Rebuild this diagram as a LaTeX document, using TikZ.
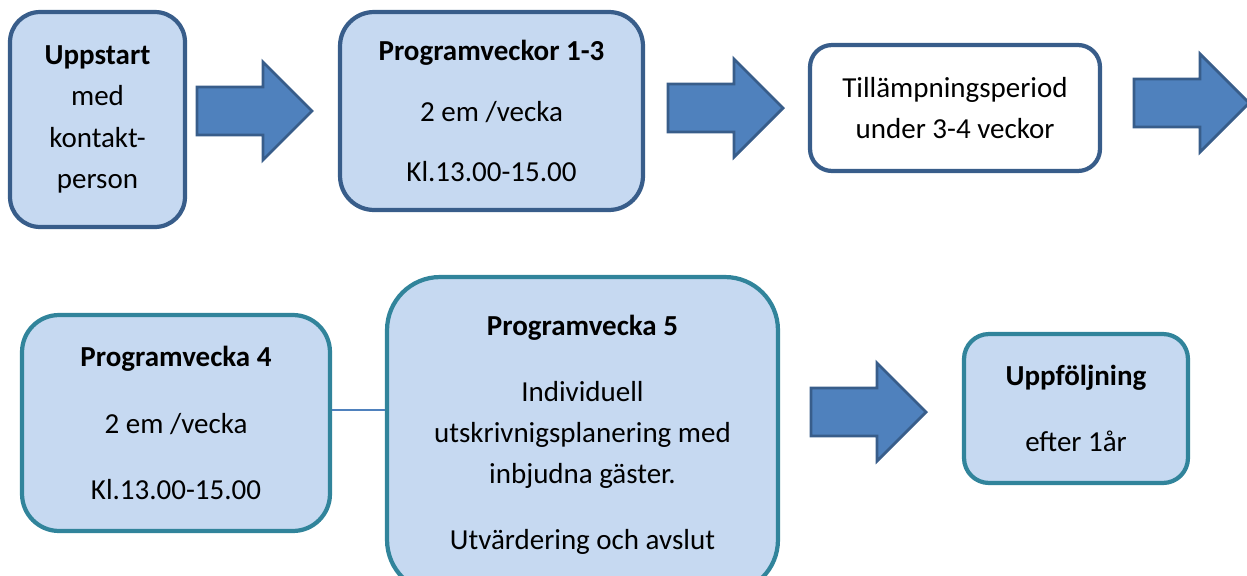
\documentclass[tikz,border=0pt]{standalone}
\usepackage{fontspec}
\setmainfont{Carlito}
\usepackage{xcolor}
\usetikzlibrary{positioning}

\definecolor{boxfill}{HTML}{C6D9F1}
\definecolor{boxblue}{HTML}{385D8A}
\definecolor{boxteal}{HTML}{31849B}
\definecolor{arrowblue}{HTML}{4F81BD}

\tikzset{
  phase/.style={draw=boxblue, fill=boxfill, line width=2.4pt, align=center,
    inner sep=0pt, font=\fontsize{16.5}{23.5}\selectfont},
  phaseteal/.style={phase, draw=boxteal},
  phasewhite/.style={phase, fill=white},
  link/.style={draw=arrowblue, line width=0.9pt},
  blockarrow/.pic={
    \draw[draw=boxblue, fill=arrowblue, line width=1.6pt]
      (0,-24) -- (66,-24) -- (66,-49) -- (115,0) -- (66,49) -- (66,24) -- (0,24) -- cycle;
  }
}

\begin{document}
\begin{tikzpicture}[x=0.02cm, y=-0.02cm]
  \useasboundingbox (0,0) rectangle (1247,575);
  \clip (0,0) rectangle (1247,575);

  % first row
  \node [phase, minimum width=3.50cm, minimum height=4.30cm, rounded corners=0.6cm] (start) at (97.5,119.5)
    {\textbf{Uppstart}\\med\\kontakt-\\person};
  \node [phase, minimum width=6.06cm, minimum height=3.96cm, rounded corners=0.68cm] (pv13) at (491.5,111)
    {\textbf{Programveckor 1-3}\\[11pt]2 em /vecka\\[11pt]Kl.13.00-15.00};
  \node [phasewhite, minimum width=5.80cm, minimum height=2.52cm, rounded corners=0.44cm] (till) at (955,108)
    {Tillämpningsperiod\\under 3-4 veckor};

  \pic at (197,111) {blockarrow};
  \pic at (668,108) {blockarrow};
  \pic at (1134,103) {blockarrow};

  % second row
  \node [phaseteal, minimum width=6.16cm, minimum height=4.32cm, rounded corners=0.74cm] (pv4) at (176,423)
    {\textbf{Programvecka 4}\\[14.5pt]2 em /vecka\\[14.5pt]Kl.13.00-15.00};
  \node [phaseteal, minimum width=7.82cm, minimum height=6.32cm, rounded corners=1.06cm] (pv5) at (582.5,435)
    {\textbf{Programvecka 5}\\[14pt]Individuell\\utskrivnigsplanering med\\inbjudna gäster.\\[14pt]Utvärdering och avslut};
  \node [phaseteal, minimum width=4.48cm, minimum height=2.98cm, rounded corners=0.5cm] (uppf) at (1076,408.5)
    {\textbf{Uppföljning}\\[14pt]efter 1år};

  \pic at (811,412) {blockarrow};

  \draw [link] (pv4.east) ++(0,-13) coordinate (l4) -- (l4 -| pv5.west);
\end{tikzpicture}
\end{document}
